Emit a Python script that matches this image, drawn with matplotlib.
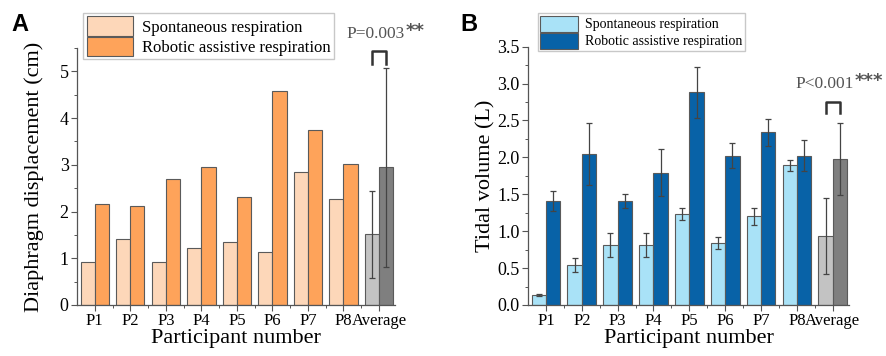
import matplotlib
matplotlib.use("Agg")
import matplotlib.pyplot as plt
import numpy as np
from matplotlib.ticker import MultipleLocator

categories = ["P1", "P2", "P3", "P4", "P5", "P6", "P7", "P8", "Average"]

# Panel A: diaphragm displacement (cm)
a_spont = [0.93, 1.42, 0.93, 1.21, 1.35, 1.13, 2.84, 2.26, 1.51]
a_robot = [2.17, 2.12, 2.69, 2.96, 2.32, 4.58, 3.74, 3.01, 2.95]
a_spont_err = [0, 0, 0, 0, 0, 0, 0, 0, 0.93]
a_robot_err = [0, 0, 0, 0, 0, 0, 0, 0, 2.13]

# Panel B: tidal volume (L)
b_spont = [0.135, 0.54, 0.81, 0.81, 1.23, 0.835, 1.20, 1.89, 0.935]
b_robot = [1.41, 2.04, 1.41, 1.79, 2.88, 2.02, 2.34, 2.02, 1.98]
b_spont_err = [0.01, 0.09, 0.16, 0.16, 0.08, 0.08, 0.12, 0.07, 0.52]
b_robot_err = [0.14, 0.42, 0.10, 0.32, 0.35, 0.17, 0.18, 0.21, 0.49]

legend_labels = ["Spontaneous respiration", "Robotic assistive respiration"]

serif = "Liberation Serif"
fig = plt.figure(figsize=(8.87, 3.56), dpi=100)
star_jobs = []

def draw(ax, spont, robot, serr, rerr, c_light, c_dark, ylim, ystep, ylabel, ylpad,
         ptext, stars, bracket_y, text_xy, legend_fs, legend_anchor, show_err_all, hl):
    x = np.arange(1, len(categories) + 1)
    w = 0.4
    light_cols = [c_light] * (len(categories) - 1) + ["#c3c3c3"]
    dark_cols = [c_dark] * (len(categories) - 1) + ["#7f7f7f"]
    edge = "#5a5a5a"
    b1 = ax.bar(x - w / 2, spont, w, color=light_cols, edgecolor=edge, linewidth=0.8, zorder=2)
    b2 = ax.bar(x + w / 2, robot, w, color=dark_cols, edgecolor=edge, linewidth=0.8, zorder=2)
    idx = range(len(categories)) if show_err_all else [len(categories) - 1]
    for i in idx:
        ax.errorbar(x[i] - w / 2, spont[i], yerr=serr[i], color="#444444", capsize=2.5,
                    elinewidth=0.9, capthick=0.9, zorder=3)
        ax.errorbar(x[i] + w / 2, robot[i], yerr=rerr[i], color="#444444", capsize=2.5,
                    elinewidth=0.9, capthick=0.9, zorder=3)
    ax.set_xlim(0.5, 9.45)
    ax.set_ylim(*ylim)
    ax.set_xticks(x)
    ax.set_xticklabels(categories, fontfamily=serif, fontsize=12)
    ax.set_xticks(x[:-1] + 0.5, minor=True)
    ax.yaxis.set_major_locator(MultipleLocator(ystep))
    ax.yaxis.set_minor_locator(MultipleLocator(ystep / 2))
    for lab in ax.get_yticklabels():
        lab.set_fontfamily(serif)
        lab.set_fontsize(13)
    ax.tick_params(axis="both", which="major", direction="out", length=4, width=0.8,
                   color="#555555", pad=2)
    ax.tick_params(axis="both", which="minor", direction="out", length=2, width=0.7,
                   color="#555555")
    for s in ["top", "right"]:
        ax.spines[s].set_visible(False)
    for s in ["left", "bottom"]:
        ax.spines[s].set_color("#555555")
        ax.spines[s].set_linewidth(0.9)
    ax.set_ylabel(ylabel, fontfamily=serif, fontsize=16, labelpad=ylpad)
    ax.set_xlabel("Participant number", fontfamily=serif, fontsize=16, labelpad=0)
    xa = x[-1]
    ax.plot([xa - w / 2, xa - w / 2, xa + w / 2, xa + w / 2],
            [bracket_y[0], bracket_y[1], bracket_y[1], bracket_y[0]],
            color="#333333", lw=1.8, clip_on=False, zorder=4)
    t = ax.text(text_xy[0], text_xy[1], ptext, ha="center", va="bottom", fontfamily=serif,
                fontsize=12.5, color="#555555", clip_on=False)
    star_jobs.append((ax, t, stars))
    leg = ax.legend([b1[0], b2[0]], legend_labels, loc="upper left",
                    bbox_to_anchor=legend_anchor, prop={"family": serif, "size": legend_fs},
                    frameon=True, fancybox=False, edgecolor="#bbbbbb", handlelength=hl,
                    handleheight=1.4, borderpad=0.2, labelspacing=0.05, handletextpad=0.5,
                    borderaxespad=0)
    leg.get_frame().set_linewidth(1.0)
    return b1, b2

axA = fig.add_axes([0.0868, 0.1433, 0.4453 - 0.0868, 0.865 - 0.1433])
draw(axA, a_spont, a_robot, a_spont_err, a_robot_err, "#fdd7b9", "#fea35a",
     (0, 5.5), 1, "Diaphragm displacement (cm)", 11, "P=0.003", "**",
     (5.15, 5.43), (8.9, 5.62), 12, (0.02, 1.136), False, 2.8)

axB = fig.add_axes([0.5953, 0.1433, 0.957 - 0.5953, 0.869 - 0.1433])
draw(axB, b_spont, b_robot, b_spont_err, b_robot_err, "#a9e2f7", "#0862a7",
     (0, 3.5), 0.5, "Tidal volume (L)", 1, "P<0.001", "***",
     (2.6, 2.75), (8.78, 2.88), 10, (0.03, 1.13), True, 2.7)

fig.text(0.013, 0.93, "A", fontfamily="Liberation Sans", fontweight="bold", fontsize=17,
         ha="left", va="center")
fig.text(0.519, 0.93, "B", fontfamily="Liberation Sans", fontweight="bold", fontsize=17,
         ha="left", va="center")

fig.canvas.draw()
renderer = fig.canvas.get_renderer()
for ax, t, stars in star_jobs:
    bb = t.get_window_extent(renderer)
    x1, y1 = fig.transFigure.inverted().transform((bb.x1, bb.y1))
    fig.text(x1 + 0.001, y1 + 0.012, stars, ha="left", va="top", fontsize=13,
             color="#555555", fontweight="bold", fontfamily="DejaVu Sans")

fig.savefig("out.png", dpi=100)
